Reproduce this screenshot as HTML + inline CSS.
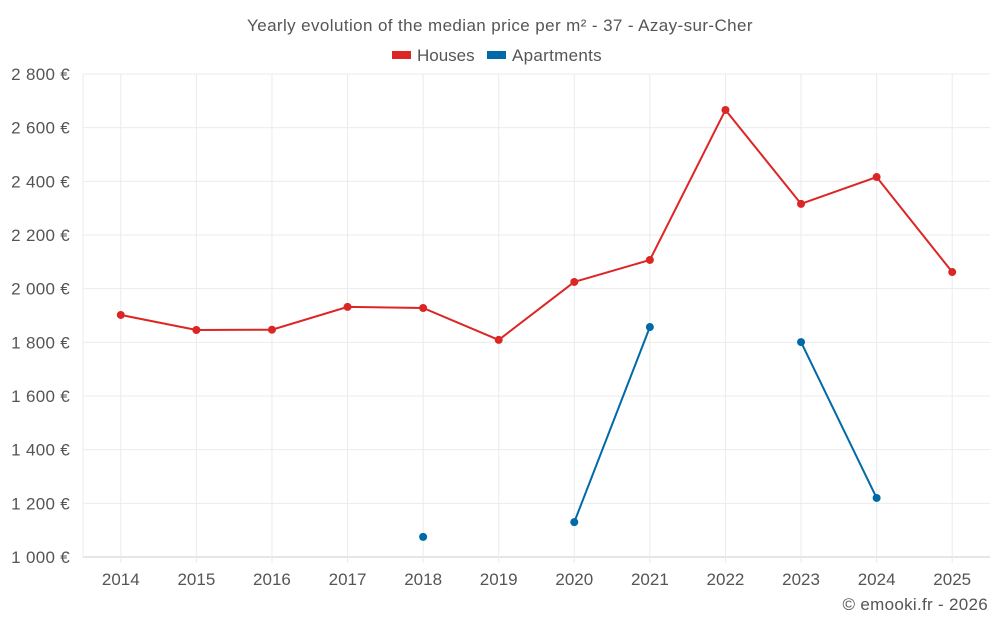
<!DOCTYPE html>
<html><head><meta charset="utf-8"><style>
body{margin:0;background:#fff;font-family:"Liberation Sans",sans-serif;}
svg text{font-family:"Liberation Sans",sans-serif;fill:#555;}
</style></head><body>
<svg id="chart" width="1000" height="625" xmlns="http://www.w3.org/2000/svg">
<text x="500" y="31" text-anchor="middle" font-size="17" letter-spacing="0.4">Yearly evolution of the median price per m² - 37 - Azay-sur-Cher</text>
<g><rect x="392" y="51" width="19" height="8" fill="#dc2626"/><text x="417" y="61" font-size="17">Houses</text></g>
<g><rect x="487" y="51" width="19" height="8" fill="#0069a8"/><text x="512" y="61" font-size="17" letter-spacing="0.3">Apartments</text></g>
<g id="grid"></g><g id="axes"></g><g id="series"></g>
<text x="988" y="610" text-anchor="end" font-size="17" letter-spacing="0.3">© emooki.fr - 2026</text>
</svg>
<script>
const years=["2014","2015","2016","2017","2018","2019","2020","2021","2022","2023","2024","2025"];
const houses=[1902,1846,1847,1932,1928,1809,2025,2107,2666,2316,2416,2062];
const apartments=[null,null,null,null,1075,null,1130,1857,null,1801,1220,null];
const yTicks=[1000,1200,1400,1600,1800,2000,2200,2400,2600,2800];
const yLabels=["1 000 €","1 200 €","1 400 €","1 600 €","1 800 €","2 000 €","2 200 €","2 400 €","2 600 €","2 800 €"];
const L=83,R=990,T=74,B=557,NS="http://www.w3.org/2000/svg";
const step=(R-L)/years.length;
const x=i=>L+step*(i+0.5);
const y=v=>B-(v-1000)/1800*(B-T);
function mk(tag,attrs,parent){const e=document.createElementNS(NS,tag);for(const k in attrs)e.setAttribute(k,attrs[k]);parent.appendChild(e);return e;}
const grid=document.getElementById('grid'),axes=document.getElementById('axes'),ser=document.getElementById('series');
yTicks.forEach((t,i)=>{
 const g=mk('line',{x1:L,x2:R,y1:y(t),y2:y(t),stroke:i==0?'#ccc':'#ebebeb'},grid);
 
 
 const tx=mk('text',{x:70,y:y(t)+6,'text-anchor':'end','font-size':'17','letter-spacing':'0.3'},axes);tx.textContent=yLabels[i];
 
 
});
mk('line',{x1:L,x2:L,y1:T,y2:B,stroke:'#ebebeb'},grid);
years.forEach((yr,i)=>{
 const g=mk('line',{x1:x(i),x2:x(i),y1:T,y2:B+6,stroke:'#ebebeb'},grid);
 
 
 const tx=mk('text',{x:x(i),y:585,'text-anchor':'middle','font-size':'17'},axes);tx.textContent=yr;
 
 
});
function draw(data,color,name){
 let seg=[];const segs=[];
 data.forEach((v,i)=>{if(v==null){if(seg.length)segs.push(seg);seg=[];}else seg.push([x(i),y(v)]);});
 if(seg.length)segs.push(seg);
 segs.forEach(s=>{if(s.length>1){const p=mk('polyline',{points:s.map(q=>q.join(',')).join(' '),fill:'none',stroke:color,'stroke-width':2},ser);
  
  }});
 data.forEach((v,i)=>{if(v==null)return;const c=mk('circle',{cx:x(i),cy:y(v),r:4,fill:color},ser);
  
  });
}
draw(houses,'#dc2626','houses');
draw(apartments,'#0069a8','apartments');
</script>
</body></html>
